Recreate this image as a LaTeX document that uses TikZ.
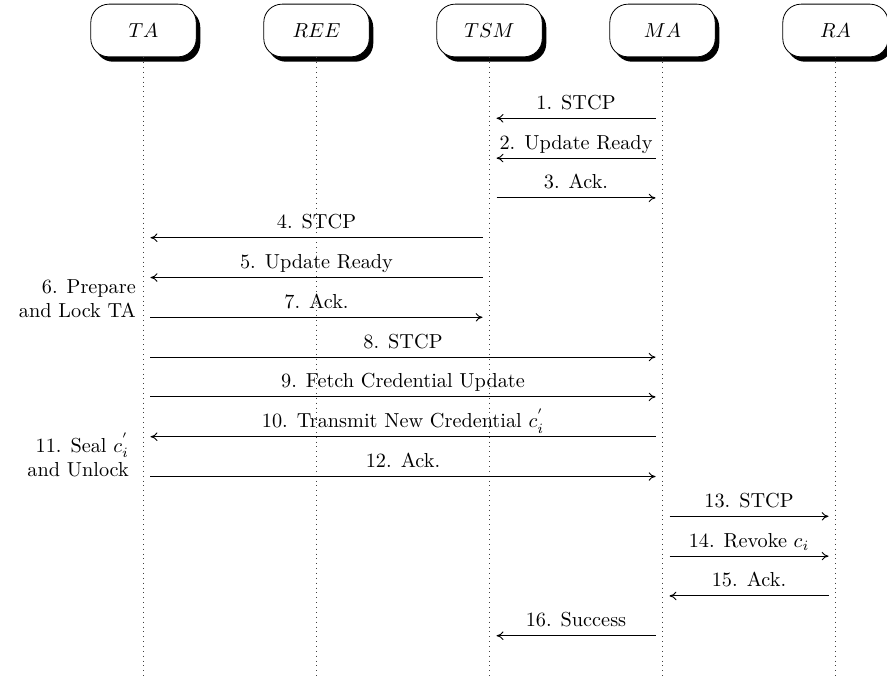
\documentclass[tikz,border=0pt]{standalone}
\usetikzlibrary{shadows,arrows.meta}
\begin{document}
\begin{tikzpicture}[x=0.4933pt,y=-0.4933pt,
  actor/.style={draw, rounded corners=9pt, fill=white, minimum width=52pt, minimum height=26pt, inner sep=0pt,
    drop shadow={shadow xshift=2pt, shadow yshift=-2.4pt, fill=black, opacity=1}},
  life/.style={dotted, black!75},
  msg/.style={-{To[length=3.4pt,width=4.2pt]}, line width=0.45pt, shorten <=3.45pt, shorten >=3.45pt},
  lbl/.style={anchor=base, yshift=4.4pt, inner sep=0pt},
  note/.style={align=right, anchor=east}
]
\useasboundingbox (0,0) rectangle (887,677);
% lifeline positions
\coordinate (bot) at (0,677);
\foreach \k in {1,...,14} {
  \coordinate (r\k) at (0,{118.3+39.8*(\k-1)});
}
% actors
\node[actor] (TA)  at (143.5,30.5) {$TA$};
\node[actor] (REE) at (316.5,30.5) {$REE$};
\node[actor] (TSM) at (489.5,30.5) {$TSM$};
\node[actor] (MA)  at (662.5,30.5) {$MA$};
\node[actor] (RA)  at (835.5,30.5) {$RA$};
% lifelines
\foreach \n in {TA,REE,TSM,MA,RA} {
  \draw[life] (\n.south) -- (\n.south |- bot);
}
% messages
\draw[msg] (MA |- r1) -- (TSM |- r1) node[midway,lbl] {1. STCP};
\draw[msg] (MA |- r2) -- (TSM |- r2) node[midway,lbl] {2. Update Ready};
\draw[msg] (TSM |- r3) -- (MA |- r3) node[midway,lbl] {3. Ack.};
\draw[msg] (TSM |- r4) -- (TA |- r4) node[midway,lbl] {4. STCP};
\draw[msg] (TSM |- r5) -- (TA |- r5) node[midway,lbl] {5. Update Ready};
\draw[msg] (TA |- r6) -- (TSM |- r6) node[midway,lbl] {7. Ack.};
\draw[msg] (TA |- r7) -- (MA |- r7) node[midway,lbl] {8. STCP};
\draw[msg] (TA |- r8) -- (MA |- r8) node[midway,lbl] {9. Fetch Credential Update};
\draw[msg] (MA |- r9) -- (TA |- r9) node[midway,lbl] {10. Transmit New Credential $c_i^{'}$};
\draw[msg] (TA |- r10) -- (MA |- r10) node[midway,lbl] {12. Ack.};
\draw[msg] (MA |- r11) -- (RA |- r11) node[midway,lbl] {13. STCP};
\draw[msg] (MA |- r12) -- (RA |- r12) node[midway,lbl] {14. Revoke $c_i$};
\draw[msg] (RA |- r13) -- (MA |- r13) node[midway,lbl] {15. Ack.};
\draw[msg] (MA |- r14) -- (TSM |- r14) node[midway,lbl] {16. Success};
% notes
\node[note] (n6) at (143,298.5) {6. Prepare\\and Lock TA};
\node[note] (n11) at (136,455) {11. Seal $c_i^{'}$\\and Unlock};
\end{tikzpicture}
\end{document}
